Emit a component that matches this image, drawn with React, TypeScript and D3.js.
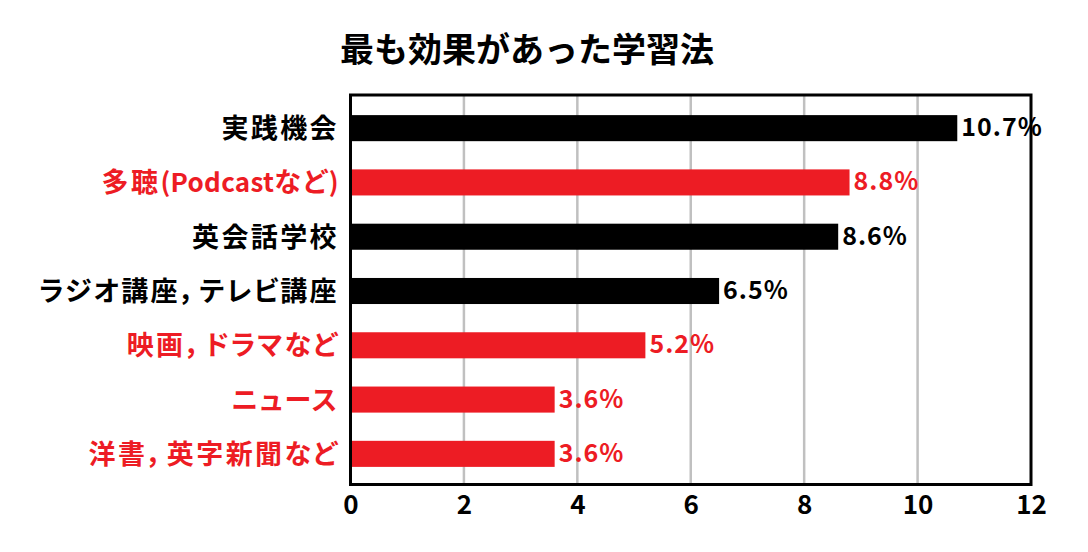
import * as d3 from "d3";
import React, { useEffect, useRef } from "react";

const categories = [
  "実践機会",
  "多聴(Podcastなど)",
  "英会話学校",
  "ラジオ講座，テレビ講座",
  "映画，ドラマなど",
  "ニュース",
  "洋書，英字新聞など",
];
const values = [10.7, 8.8, 8.6, 6.5, 5.2, 3.6, 3.6];
const highlighted = [false, true, false, false, true, true, true];
const xTicks = [0, 2, 4, 6, 8, 10, 12];
const title = "最も効果があった学習法";

// split a label into runs so kanji, kana, punctuation and latin can be spaced differently
type Run = { text: string; kind: "kanji" | "kana" | "comma" | "latin" };
const charKind = (ch: string): Run["kind"] => {
  if (ch === "，") return "comma";
  if (/[\u3040-\u30ff]/.test(ch)) return "kana";
  if (/[\u0000-\u00ff]/.test(ch)) return "latin";
  return "kanji";
};
const splitRuns = (s: string): Run[] => {
  const runs: Run[] = [];
  for (const ch of s) {
    const k = charKind(ch);
    const last = runs[runs.length - 1];
    if (last && last.kind === k) last.text += ch;
    else runs.push({ text: ch, kind: k });
  }
  return runs;
};

const App: React.FC = () => {
  const svgRef = useRef<SVGSVGElement>(null);

  useEffect(() => {
    const width = 1088;
    const height = 552;
    const left = 350.5;
    const right = 1031;
    const top = 95;
    const bottom = 484.5;
    const red = "#ED1C24";
    const font = "'Noto Sans CJK JP', 'Noto Sans', sans-serif";

    const svg = d3.select(svgRef.current);
    svg.selectAll("*").remove();
    svg.attr("width", width).attr("height", height).attr("viewBox", `0 0 ${width} ${height}`);

    const x = d3.scaleLinear().domain([0, 12]).range([left, right]);
    const y = d3
      .scaleBand<string>()
      .domain(categories)
      .range([101, 481])
      .paddingInner(0.52)
      .paddingOuter(0.26);

    const rows = categories.map((c, i) => ({ c, v: values[i], red: highlighted[i] }));

    // title
    svg
      .append("text")
      .attr("x", 527)
      .attr("y", 62)
      .attr("text-anchor", "middle")
      .attr("font-family", font)
      .attr("font-weight", "bold")
      .attr("font-size", 34)
      .attr("fill", "#000")
      .text(title);

    // grid lines
    svg
      .append("g")
      .selectAll("line")
      .data(xTicks.slice(1, -1))
      .join("line")
      .attr("x1", (d) => x(d))
      .attr("x2", (d) => x(d))
      .attr("y1", top)
      .attr("y2", bottom)
      .attr("stroke", "#c0c0c0")
      .attr("stroke-width", 2.5);

    // bars
    svg
      .append("g")
      .selectAll("rect")
      .data(rows)
      .join("rect")
      .attr("x", x(0))
      .attr("y", (d) => y(d.c)!)
      .attr("width", (d) => x(d.v) - x(0))
      .attr("height", y.bandwidth())
      .attr("fill", (d) => (d.red ? red : "#000"));

    // value labels
    svg
      .append("g")
      .selectAll("text")
      .data(rows)
      .join("text")
      .attr("x", (d) => x(d.v) + 4)
      .attr("y", (d) => y(d.c)! + y.bandwidth() / 2 + 8)
      .attr("font-family", font)
      .attr("font-weight", "bold")
      .attr("font-size", 25)
      .attr("letter-spacing", 1)
      .attr("fill", (d) => (d.red ? red : "#000"))
      .text((d) => `${d.v.toFixed(1)}%`);

    // category labels
    const labels = svg
      .append("g")
      .selectAll("text")
      .data(rows)
      .join("text")
      .attr("x", 339)
      .attr("y", (d) => y(d.c)! + y.bandwidth() / 2 + 10)
      .attr("text-anchor", "end")
      .attr("font-family", font)
      .attr("font-weight", "bold")
      .attr("font-size", 27)
      .attr("fill", (d) => (d.red ? red : "#000"));
    labels.each(function (d) {
      const t = d3.select(this);
      splitRuns(d.c).forEach((r) => {
        const span = t.append("tspan").text(r.text);
        if (r.kind === "kanji") span.attr("letter-spacing", 2.4);
        if (r.kind === "kana") span.style("font-feature-settings", "'palt'").attr("letter-spacing", 2);
        if (r.kind === "comma")
          span.style("font-feature-settings", "'halt'").attr("dx", -2).attr("letter-spacing", 8);
        if (r.kind === "latin") span.attr("font-size", 26).attr("letter-spacing", 0.3);
      });
    });

    // frame
    svg
      .append("rect")
      .attr("x", left)
      .attr("y", top)
      .attr("width", right - left)
      .attr("height", bottom - top)
      .attr("fill", "none")
      .attr("stroke", "#000")
      .attr("stroke-width", 3);

    // x axis
    const axis = svg
      .append("g")
      .attr("transform", `translate(0, ${bottom})`)
      .call(d3.axisBottom(x).tickValues(xTicks).tickSize(0).tickPadding(10));
    axis.select(".domain").remove();
    axis
      .selectAll("text")
      .attr("font-family", font)
      .attr("font-weight", "bold")
      .attr("font-size", 26)
      .attr("fill", "#000")
      .attr("dy", null)
      .attr("y", 29.5);
  }, []);

  return (
    <div style={{ position: "absolute", left: 0, top: 0, width: 1088, height: 552, background: "#fff" }}>
      <svg ref={svgRef} />
    </div>
  );
};

export default App;
